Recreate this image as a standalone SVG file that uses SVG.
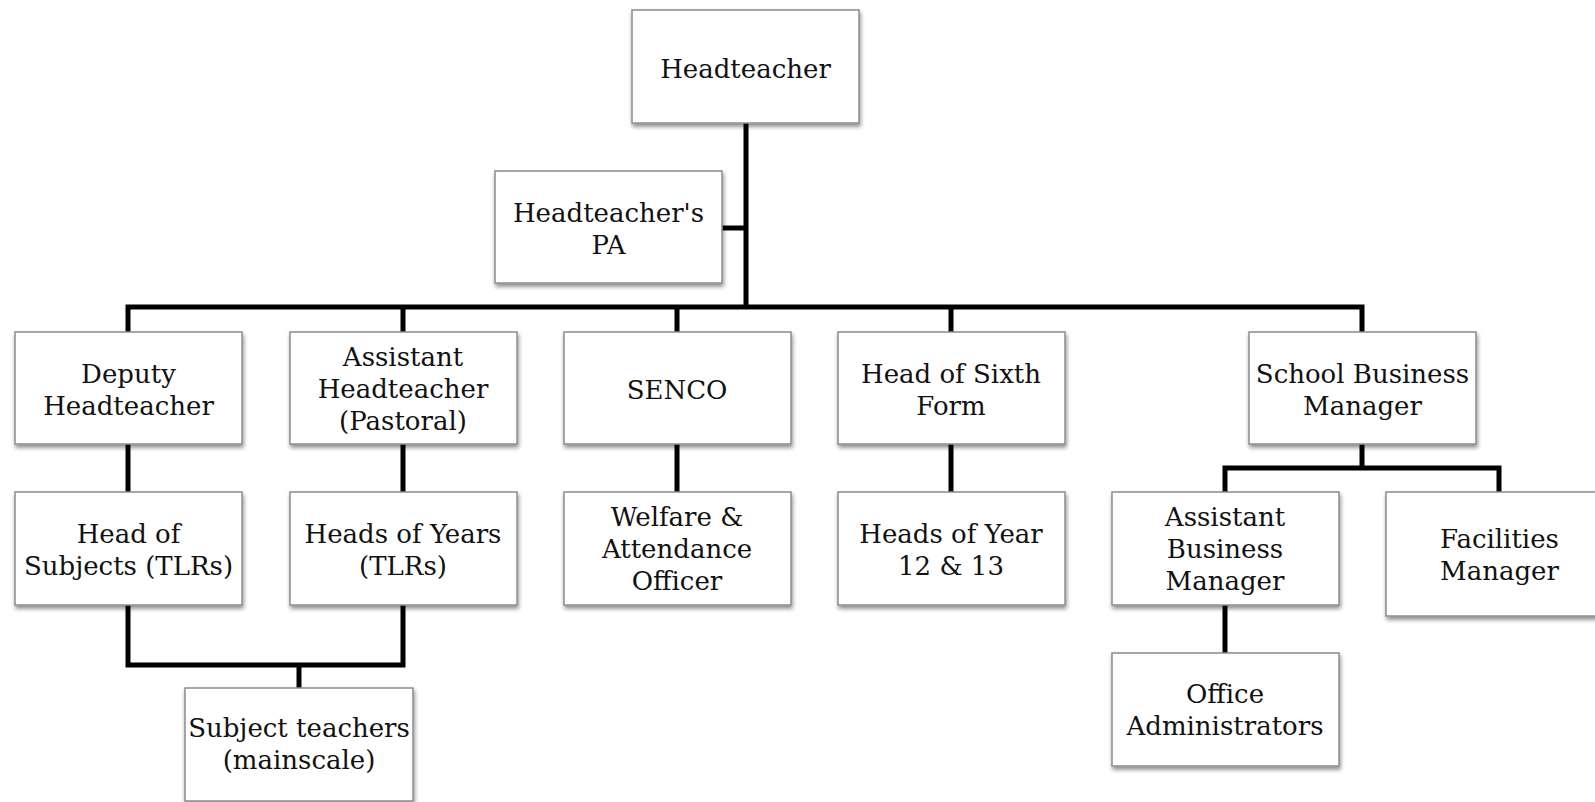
<svg xmlns="http://www.w3.org/2000/svg" width="1595" height="802" viewBox="0 0 1595 802">
<defs>
<filter id="sh" x="-10%" y="-10%" width="125%" height="130%">
<feGaussianBlur in="SourceAlpha" stdDeviation="2"/>
<feOffset dx="1" dy="3" result="b"/>
<feComponentTransfer><feFuncA type="linear" slope="0.45"/></feComponentTransfer>
<feMerge><feMergeNode/><feMergeNode in="SourceGraphic"/></feMerge>
</filter>
</defs>
<style>
.box{fill:#fff;stroke:#8c8c8c;stroke-width:1.5;filter:url(#sh)}
.t{font-family:"DejaVu Serif","Liberation Serif",serif;font-size:26px;fill:#111;text-anchor:middle}
.c{fill:none;stroke:#000;stroke-width:5;stroke-linejoin:miter;stroke-linecap:butt}
</style>
<rect width="1595" height="802" fill="#fff"/>
<g id="connectors">
<path class="c" d="M746,123 V307"/>
<path class="c" d="M722,228 H746"/>
<path class="c" d="M128,332 V307 H1362 V332"/>
<path class="c" d="M403,307 V332 M677,307 V332 M951,307 V332"/>
<path class="c" d="M128,444 V492 M403,444 V492 M677,444 V492 M951,444 V492"/>
<path class="c" d="M1362,444 V468"/>
<path class="c" d="M1225,492 V468 H1499 V492"/>
<path class="c" d="M1225,605 V653"/>
<path class="c" d="M128,605 V665 H403 V605"/>
<path class="c" d="M299,665 V688"/>
</g>
<g id="headteacher"><rect class="box" x="632" y="10" width="227" height="113"/><text class="t" x="745.5" y="78">Headteacher</text></g>
<g id="pa"><rect class="box" x="495" y="171" width="227" height="112"/><text class="t" x="608.5" y="222">Headteacher's</text><text class="t" x="608.5" y="254">PA</text></g>
<g id="deputy"><rect class="box" x="15" y="332" width="227" height="112"/><text class="t" x="128.5" y="383">Deputy</text><text class="t" x="128.5" y="415">Headteacher</text></g>
<g id="assistant-ht"><rect class="box" x="290" y="332" width="227" height="112"/><text class="t" x="403" y="366">Assistant</text><text class="t" x="403" y="398">Headteacher</text><text class="t" x="403" y="430">(Pastoral)</text></g>
<g id="senco"><rect class="box" x="564" y="332" width="227" height="112"/><text class="t" x="677" y="399">SENCO</text></g>
<g id="head-sixth"><rect class="box" x="838" y="332" width="227" height="112"/><text class="t" x="951" y="383">Head of Sixth</text><text class="t" x="951" y="415">Form</text></g>
<g id="sbm"><rect class="box" x="1249" y="332" width="227" height="112"/><text class="t" x="1362.5" y="383">School Business</text><text class="t" x="1362.5" y="415">Manager</text></g>
<g id="head-subjects"><rect class="box" x="15" y="492" width="227" height="113"/><text class="t" x="128.5" y="543">Head of</text><text class="t" x="128.5" y="575">Subjects (TLRs)</text></g>
<g id="heads-years"><rect class="box" x="290" y="492" width="227" height="113"/><text class="t" x="403" y="543">Heads of Years</text><text class="t" x="403" y="575">(TLRs)</text></g>
<g id="welfare"><rect class="box" x="564" y="492" width="227" height="113"/><text class="t" x="677" y="526">Welfare &amp;</text><text class="t" x="677" y="558">Attendance</text><text class="t" x="677" y="590">Officer</text></g>
<g id="heads-year-12-13"><rect class="box" x="838" y="492" width="227" height="113"/><text class="t" x="951" y="543">Heads of Year</text><text class="t" x="951" y="575">12 &amp; 13</text></g>
<g id="abm"><rect class="box" x="1112" y="492" width="227" height="113"/><text class="t" x="1225" y="526">Assistant</text><text class="t" x="1225" y="558">Business</text><text class="t" x="1225" y="590">Manager</text></g>
<g id="facilities"><rect class="box" x="1386" y="492" width="227" height="124"/><text class="t" x="1499.5" y="548">Facilities</text><text class="t" x="1499.5" y="580">Manager</text></g>
<g id="office"><rect class="box" x="1112" y="653" width="227" height="113"/><text class="t" x="1225" y="703">Office</text><text class="t" x="1225" y="735">Administrators</text></g>
<g id="subject-teachers"><rect class="box" x="185" y="688" width="228" height="113"/><text class="t" x="299" y="737">Subject teachers</text><text class="t" x="299" y="769">(mainscale)</text></g>
</svg>
